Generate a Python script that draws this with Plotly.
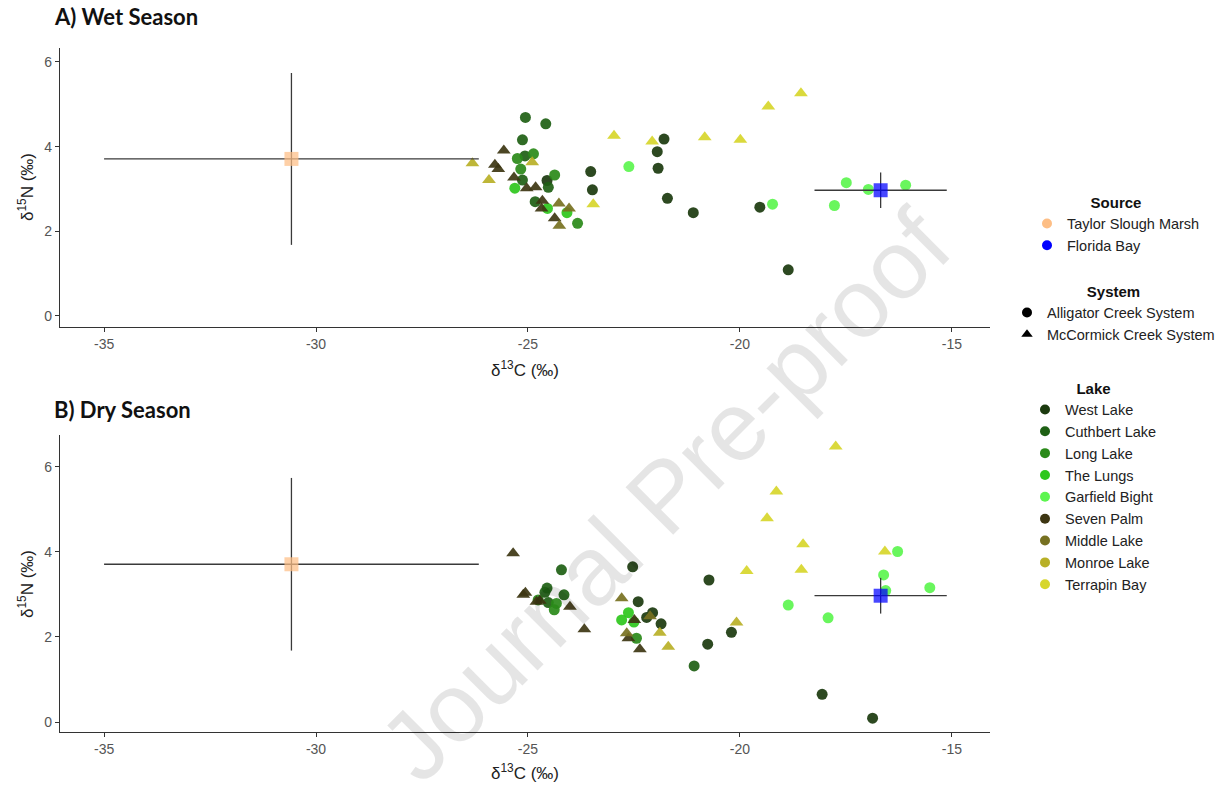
import plotly.graph_objects as go

# ---------------- data ----------------
lakes = ["West Lake", "Cuthbert Lake", "Long Lake", "The Lungs", "Garfield Bight",
         "Seven Palm", "Middle Lake", "Monroe Lake", "Terrapin Bay"]
lake_colors = ["#1B3A0E", "#1E6014", "#2A8A19", "#2EC71C", "#5CF54F",
               "#3D3612", "#777121", "#B8B027", "#D7D62B"]
lake_system = ["Alligator Creek System"] * 5 + ["McCormick Creek System"] * 4
systems = ["Alligator Creek System", "McCormick Creek System"]
system_symbols = ["circle", "triangle-up"]

# Wet season (A)
wet_x = {
    "West Lake": [-24.55, -23.52, -23.48, -21.79, -21.95, -21.93, -21.71, -21.10, -19.53, -18.86],
    "Cuthbert Lake": [-25.06, -24.58, -25.13, -25.07, -25.13, -24.52, -24.83],
    "Long Lake": [-25.25, -24.87, -25.17, -24.37, -23.83],
    "The Lungs": [-25.31, -24.54, -24.08],
    "Garfield Bight": [-22.62, -19.23, -17.49, -16.97, -16.09, -17.77],
    "Seven Palm": [-25.57, -25.78, -25.70, -25.33, -25.03, -24.82, -24.66, -24.68, -24.37],
    "Middle Lake": [-24.27, -24.03, -24.26],
    "Monroe Lake": [-26.31, -25.92, -24.90],
    "Terrapin Bay": [-23.46, -22.97, -18.56, -19.33, -22.07, -20.83, -19.99],
}
wet_y = {
    "West Lake": [3.20, 3.41, 2.98, 4.18, 3.88, 3.49, 2.78, 2.44, 2.57, 1.09],
    "Cuthbert Lake": [4.69, 4.54, 4.16, 3.78, 3.21, 3.04, 2.70],
    "Long Lake": [3.72, 3.83, 3.47, 3.33, 2.19],
    "The Lungs": [3.02, 2.54, 2.44],
    "Garfield Bight": [3.53, 2.64, 3.15, 2.99, 3.09, 2.61],
    "Seven Palm": [3.91, 3.57, 3.47, 3.27, 3.02, 3.04, 2.72, 2.54, 2.31],
    "Middle Lake": [2.66, 2.54, 2.13],
    "Monroe Lake": [3.61, 3.21, 3.63],
    "Terrapin Bay": [2.64, 4.26, 5.26, 4.95, 4.12, 4.22, 4.16],
}
# Dry season (B)
dry_x = {
    "West Lake": [-22.53, -22.40, -22.06, -22.20, -21.86, -20.73, -20.20, -20.76, -18.06, -16.87],
    "Cuthbert Lake": [-24.21, -24.55, -24.60, -24.52, -24.15, -21.08],
    "Long Lake": [-24.76, -24.33, -24.38, -22.44],
    "The Lungs": [-22.63, -22.79, -22.50],
    "Garfield Bight": [-18.86, -17.92, -16.28, -16.61, -16.56, -15.52],
    "Seven Palm": [-25.35, -25.11, -25.06, -24.72, -24.80, -24.01, -23.67, -22.49, -22.63, -22.36],
    "Middle Lake": [-22.79, -22.67, -22.12],
    "Monroe Lake": [-21.89, -21.69, -20.08],
    "Terrapin Bay": [-17.74, -19.14, -19.36, -18.51, -19.84, -18.55, -16.58],
}
dry_y = {
    "West Lake": [3.65, 2.83, 2.57, 2.46, 2.31, 3.34, 2.11, 1.83, 0.65, 0.09],
    "Cuthbert Lake": [3.58, 3.15, 3.05, 2.81, 2.99, 1.32],
    "Long Lake": [2.87, 2.79, 2.64, 1.97],
    "The Lungs": [2.57, 2.40, 2.35],
    "Garfield Bight": [2.75, 2.45, 4.01, 3.46, 3.09, 3.16],
    "Seven Palm": [3.97, 2.99, 3.04, 2.85, 2.83, 2.71, 2.18, 2.40, 1.97, 1.71],
    "Middle Lake": [2.91, 2.09, 2.49],
    "Monroe Lake": [2.10, 1.77, 2.34],
    "Terrapin Bay": [6.48, 5.42, 4.79, 4.18, 3.55, 3.58, 4.01],
}

# Sources (mean +/- SD), same in both seasons
sources = ["Taylor Slough Marsh", "Florida Bay"]
source_colors = ["#FDBE85", "#0000FF"]
source_c = [-30.58, -16.68]
source_c_sd = [4.42, 1.56]
source_n = [3.71, 2.97]
source_n_sd = [2.03, 0.42]

x_ticks = [-35, -30, -25, -20, -15]
x_tick_labels = ["-35", "-30", "-25", "-20", "-15"]
y_ticks = [0, 2, 4, 6]
y_tick_labels = ["0", "2", "4", "6"]

# ---------------- figure ----------------
W, H = 1225, 792
fig = go.Figure()

def px_x(p):
    return p / W

def px_y(p):
    return 1 - p / H

panels = [("x", "y", wet_x, wet_y), ("x2", "y2", dry_x, dry_y)]
for xa, ya, dx, dy in panels:
    for lake, col, sysname in zip(lakes, lake_colors, lake_system):
        sym = system_symbols[systems.index(sysname)]
        fig.add_trace(go.Scatter(
            x=dx[lake], y=dy[lake], mode="markers", xaxis=xa, yaxis=ya,
            marker=dict(color=col, size=11 if sym == "circle" else 12, symbol=sym,
                        opacity=0.92, line=dict(width=0)),
            showlegend=False, name=lake, hoverinfo="x+y+name"))
    for s, col, c, csd, n, nsd in zip(sources, source_colors, source_c, source_c_sd,
                                      source_n, source_n_sd):
        fig.add_trace(go.Scatter(
            x=[c], y=[n], mode="markers", xaxis=xa, yaxis=ya,
            marker=dict(color=col, size=14, symbol="square", opacity=0.72,
                        line=dict(width=0)),
            error_x=dict(type="data", array=[csd], color="#3a3a3a", thickness=1.3, width=0),
            error_y=dict(type="data", array=[nsd], color="#3a3a3a", thickness=1.3, width=0),
            showlegend=False, name=s))

# legend-only entries
for s, col in zip(sources, source_colors):
    fig.add_trace(go.Scatter(x=[None], y=[None], mode="markers", name=s,
                             marker=dict(color=col, size=10, symbol="circle"),
                             legend="legend"))
for sname, sym in zip(systems, system_symbols):
    fig.add_trace(go.Scatter(x=[None], y=[None], mode="markers", name=sname,
                             marker=dict(color="black", size=10, symbol=sym),
                             legend="legend2"))
for lake, col in zip(lakes, lake_colors):
    fig.add_trace(go.Scatter(x=[None], y=[None], mode="markers", name=lake,
                             marker=dict(color=col, size=10, symbol="circle"),
                             legend="legend3"))

axis_common = dict(showgrid=False, zeroline=False, showline=True, linecolor="#333333",
                   linewidth=1.2, ticks="outside", ticklen=4, tickcolor="#333333",
                   tickwidth=1, tickfont=dict(family="Liberation Sans, Arial", size=14,
                                              color="#555555"),
                   automargin=False, fixedrange=True)

leg_font = dict(family="Liberation Sans, Arial", size=14.5, color="#222222")
leg_title_font = dict(family="Liberation Sans, Arial", size=15, color="#111111")

xdom = [px_x(60), px_x(990)]
fig.update_layout(
    width=W, height=H,
    margin=dict(l=0, r=0, t=0, b=0, autoexpand=False),
    paper_bgcolor="white", plot_bgcolor="white",
    font=dict(family="Liberation Sans, Arial", color="#222222"),
    xaxis=dict(axis_common, domain=xdom, range=[-36.04, -14.10], anchor="y",
               tickvals=x_ticks, ticktext=x_tick_labels),
    yaxis=dict(axis_common, domain=[px_y(327), px_y(48)], range=[-0.26, 6.33], anchor="x",
               tickvals=y_ticks, ticktext=y_tick_labels),
    xaxis2=dict(axis_common, domain=xdom, range=[-36.04, -14.10], anchor="y2",
                tickvals=x_ticks, ticktext=x_tick_labels),
    yaxis2=dict(axis_common, domain=[px_y(732), px_y(435)], range=[-0.235, 6.75],
                anchor="x2", tickvals=y_ticks, ticktext=y_tick_labels),
    legend=dict(x=px_x(1027), y=px_y(188), xanchor="left", yanchor="top",
                title=dict(text="<b>Source</b>", side="top center", font=leg_title_font),
                font=leg_font, bgcolor="rgba(0,0,0,0)", tracegroupgap=0),
    legend2=dict(x=px_x(1007), y=px_y(277), xanchor="left", yanchor="top",
                 title=dict(text="<b>System</b>", side="top center", font=leg_title_font),
                 font=leg_font, bgcolor="rgba(0,0,0,0)", tracegroupgap=0),
    legend3=dict(x=px_x(1025), y=px_y(374), xanchor="left", yanchor="top",
                 title=dict(text="<b>Lake</b>", side="top center", font=leg_title_font),
                 font=leg_font, bgcolor="rgba(0,0,0,0)", tracegroupgap=0,
                 entrywidth=140),
    showlegend=True,
)

ann_font = dict(family="Liberation Sans, Arial", size=17, color="#222222")
title_font = dict(family="Lato, Open Sans, sans-serif", size=22, color="#111111")
annotations = [
    dict(text="<b>A) Wet Season</b>", x=px_x(52), y=px_y(17), xanchor="left",
         yanchor="middle", font=title_font),
    dict(text="<b>B) Dry Season</b>", x=px_x(52), y=px_y(409), xanchor="left",
         yanchor="middle", font=title_font),
    dict(text="δ<sup>13</sup>C (‰)", x=px_x(525), y=px_y(369), xanchor="center",
         yanchor="middle", font=ann_font),
    dict(text="δ<sup>13</sup>C (‰)", x=px_x(525), y=px_y(772), xanchor="center",
         yanchor="middle", font=ann_font),
    dict(text="δ<sup>15</sup>N (‰)", x=px_x(26), y=px_y(187), xanchor="center",
         yanchor="middle", textangle=-90, font=ann_font),
    dict(text="δ<sup>15</sup>N (‰)", x=px_x(26), y=px_y(584), xanchor="center",
         yanchor="middle", textangle=-90, font=ann_font),
    dict(text="Journal Pre-proof", x=px_x(665), y=px_y(495), xanchor="center",
         yanchor="middle", textangle=-45,
         font=dict(family="Liberation Sans, Arial", size=98, color="rgba(0,0,0,0.10)")),
]
for a in annotations:
    a.update(xref="paper", yref="paper", showarrow=False)
fig.update_layout(annotations=annotations)

fig.write_html("out.html", config={"displayModeBar": False},
               post_script="document.body.style.margin='0px';document.body.style.padding='0px';")
